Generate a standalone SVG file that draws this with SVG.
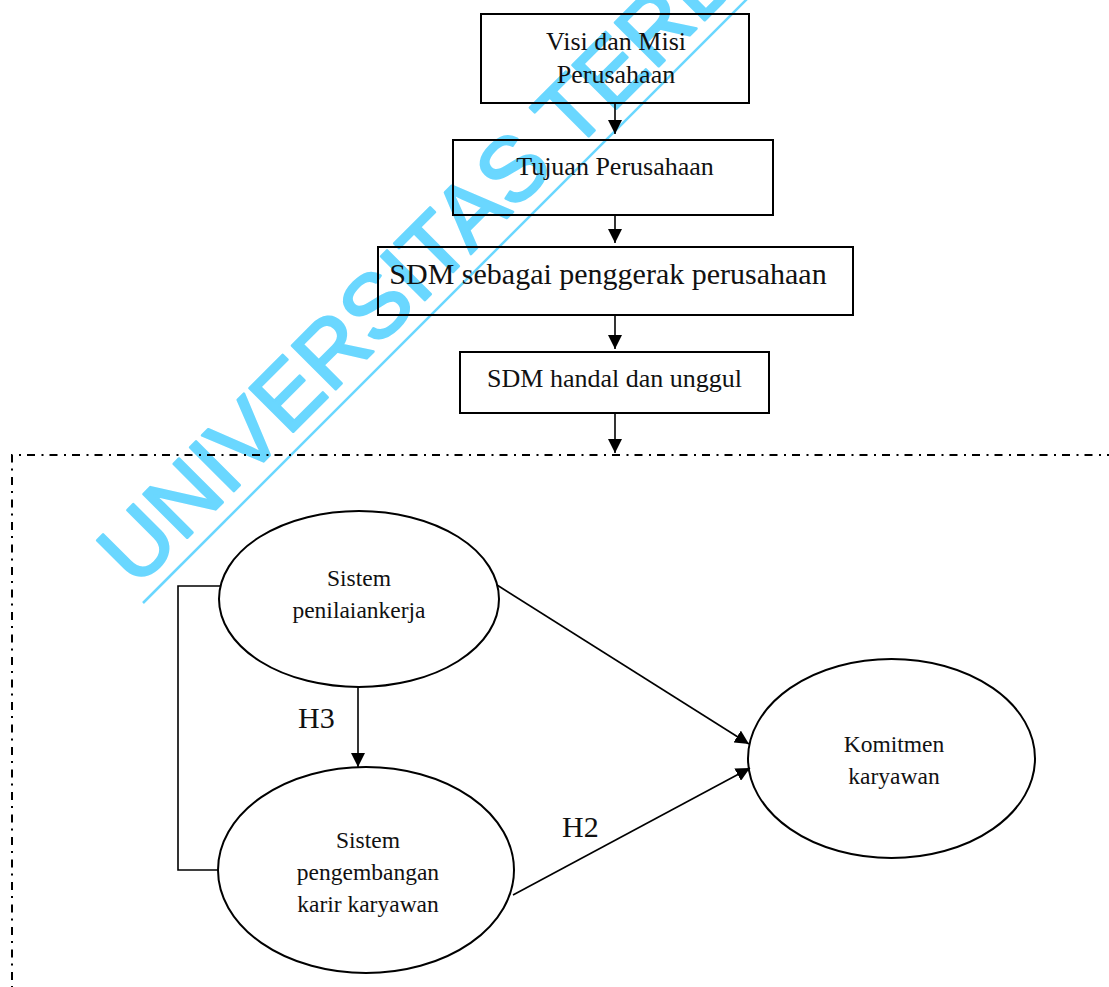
<svg xmlns="http://www.w3.org/2000/svg" width="1109" height="987" viewBox="0 0 1109 987">
  <style>
    .box { fill: none; stroke: #000; stroke-width: 2; }
    .ell { fill: none; stroke: #000; stroke-width: 2; }
    .lbl { font-family: "Liberation Serif", "Times New Roman", serif; fill: #111; text-anchor: middle; }
    .bt { font-size: 26px; }
    .bt-lg { font-size: 30px; }
    .et { font-size: 23.5px; }
    .hl { font-family: "Liberation Serif", "Times New Roman", serif; font-size: 30px; fill: #111; }
    .conn { fill: none; stroke: #000; stroke-width: 1.6; }
    .arrow { marker-end: url(#head); }
    .frame { fill: none; stroke: #000; stroke-width: 2; stroke-dasharray: 8 6 2 6.5; }
    .wm { font-family: "Liberation Sans", Arial, sans-serif; font-size: 90px; fill: #6ad7ff; stroke: #6ad7ff; stroke-width: 2.5; stroke-linejoin: round; }
  </style>
  <defs>
    <marker id="head" markerUnits="userSpaceOnUse" markerWidth="14" markerHeight="14" refX="14" refY="7" orient="auto">
      <path d="M0,0 L14,7 L0,14 z" fill="#000"/>
    </marker>
  </defs>

  <rect width="1109" height="987" fill="#fff"/>

  <!-- watermark -->
  <g id="watermark">
    <text class="wm" transform="translate(136,589) rotate(-45)">UNIVERSITAS TERBUKA</text>
    <line x1="143" y1="603" x2="770" y2="-24" stroke="#6ad7ff" stroke-width="2.5"/>
  </g>

  <!-- dash-dot frame around the research model -->
  <path id="frame" class="frame" d="M1115,455 H12 V1000"/>

  <g id="n-visi">
    <rect class="box" x="481" y="14" width="268" height="89"/>
    <text class="lbl bt" x="616" y="50">Visi dan Misi</text>
    <text class="lbl bt" x="616" y="83">Perusahaan</text>
  </g>
  <g id="n-tujuan">
    <rect class="box" x="453" y="140" width="320" height="75"/>
    <text class="lbl bt" x="615" y="175">Tujuan Perusahaan</text>
  </g>
  <g id="n-penggerak">
    <rect class="box" x="378" y="247" width="475" height="68"/>
    <text class="lbl bt-lg" x="608" y="284">SDM sebagai penggerak perusahaan</text>
  </g>
  <g id="n-handal">
    <rect class="box" x="460" y="352" width="309" height="61"/>
    <text class="lbl bt" x="614.5" y="387">SDM handal dan unggul</text>
  </g>

  <g id="n-penilaian">
    <ellipse class="ell" cx="359" cy="599" rx="140" ry="88"/>
    <text class="lbl et" x="359" y="586">Sistem</text>
    <text class="lbl et" x="359" y="618">penilaiankerja</text>
  </g>
  <g id="n-karir">
    <ellipse class="ell" cx="366" cy="870" rx="148" ry="103"/>
    <text class="lbl et" x="368" y="848">Sistem</text>
    <text class="lbl et" x="368" y="880">pengembangan</text>
    <text class="lbl et" x="368" y="912">karir karyawan</text>
  </g>
  <g id="n-komitmen">
    <ellipse class="ell" cx="891.5" cy="758.5" rx="143.5" ry="99.5"/>
    <text class="lbl et" x="894" y="752">Komitmen</text>
    <text class="lbl et" x="894" y="784">karyawan</text>
  </g>

  <g id="connectors">
    <path class="conn arrow" d="M615,103 V134"/>
    <path class="conn arrow" d="M615,215 V243"/>
    <path class="conn arrow" d="M615,315 V349"/>
    <path class="conn arrow" d="M615,413 V453"/>
    <path class="conn arrow" d="M358,687 V767"/>
    <path class="conn arrow" d="M497,585 L749,744"/>
    <path class="conn arrow" d="M513,895 L750,768"/>
    <path class="conn" d="M221,586 H178 V870 H218"/>
    <text class="hl" x="298" y="728">H3</text>
    <text class="hl" x="562" y="837">H2</text>
  </g>
</svg>
